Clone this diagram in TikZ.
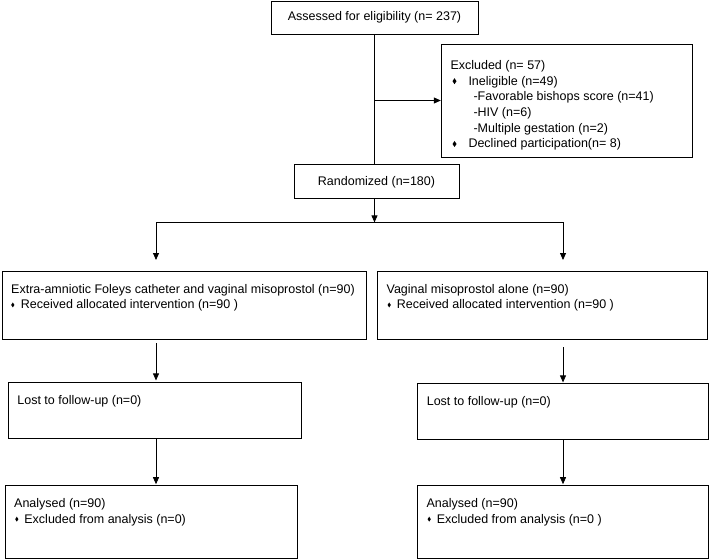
\documentclass[tikz,border=0pt]{standalone}
\usepackage{fontspec}
\setmainfont{Liberation Sans}
\usetikzlibrary{positioning, arrows.meta}

% small diamond bullets
\newcommand{\dmd}{\tikz[baseline=0pt]\fill (0pt,4pt) -- (2pt,7pt) -- (4pt,4pt) -- (2pt,1pt) -- cycle;}
\newcommand{\sdmd}{\tikz[baseline=0pt]\fill (0pt,4pt) -- (1.6pt,6.5pt) -- (3.2pt,4pt) -- (1.6pt,1.5pt) -- cycle;}
% text that sits at the top of a box
\newcommand{\toptext}[3]{\parbox[c][#2][t]{#1}{#3}}

\begin{document}
\begin{tikzpicture}[x=1pt, y=-1pt, line width=0.8pt, >={Triangle[length=7pt,width=6pt]},
  box/.style={draw, font=\fontsize{12.5}{15.7}\selectfont},
  stage/.style={box, inner xsep=9pt, inner ysep=13pt}]
\useasboundingbox (0,0) rectangle (709,558);

\node[box, minimum width=207pt, minimum height=33pt] (assess) at (374.5,17.5) {Assessed for eligibility (n= 237)};
\node[box, minimum width=165pt, minimum height=34pt, below=130pt of assess, xshift=2pt] (rand) {Randomized (n=180)};
\node[box, minimum width=251pt, minimum height=113pt, inner xsep=9.5pt] (excl) at (566.5,100.5) {\parbox{232pt}{\vspace*{10pt}Excluded (n= 57)\\
  \hspace*{2pt}\dmd\hspace*{12pt}Ineligible (n=49)\\
  \hspace*{23pt}-Favorable bishops score (n=41)\\
  \hspace*{23pt}-HIV (n=6)\\
  \hspace*{23pt}-Multiple gestation (n=2)\\
  \hspace*{2pt}\dmd\hspace*{12pt}Declined participation(n= 8)}};

% left arm
\node[stage, anchor=north west] (alloc1) at (2,271) {\toptext{346pt}{42pt}{Extra-amniotic Foleys catheter and vaginal misoprostol (n=90)\\
  \hspace*{0pt}\sdmd\hspace*{6.5pt}Received allocated intervention (n=90 )}};
\node[stage, below=43pt of alloc1.south west, anchor=north west, xshift=6pt] (lost1) {\toptext{275pt}{30pt}{Lost to follow-up (n=0)}};
\node[stage, below=46pt of lost1.south west, anchor=north west, xshift=-3pt] (anal1) {\toptext{274pt}{47pt}{Analysed (n=90)\\
  \hspace*{1pt}\sdmd\hspace*{6pt}Excluded from analysis (n=0)}};

% right arm
\node[stage, right=11pt of alloc1.north east, anchor=north west] (alloc2) {\toptext{312pt}{42pt}{Vaginal misoprostol alone (n=90)\\
  \hspace*{1pt}\sdmd\hspace*{6pt}Received allocated intervention (n=90 )}};
\node[stage, below=44pt of alloc2.south west, anchor=north west, xshift=40pt] (lost2) {\toptext{273pt}{30pt}{Lost to follow-up (n=0)}};
\node[stage, below=45pt of lost2.south west, anchor=north west] (anal2) {\toptext{273pt}{47pt}{Analysed (n=90)\\
  \hspace*{1pt}\sdmd\hspace*{6pt}Excluded from analysis (n=0 )}};

\coordinate (exclsplit) at (assess.south |- excl.west);
\path (assess.south) ++(0,188) coordinate (fork);
\path (fork) ++(-218.5,0) coordinate (forkL);
\path (fork) ++(188.5,0) coordinate (forkR);

\draw (assess.south) -- (assess.south |- rand.north);
\draw[->] (exclsplit) -- (excl.west);
\draw[->] (fork |- rand.south) -- (fork);
\draw (forkL) -- (forkR);

\draw[->, shorten >=11pt] (forkL) -- (forkL |- alloc1.north);
\draw[->, shorten <=4pt, shorten >=2pt] (forkL |- alloc1.south) -- (forkL |- lost1.north);
\draw[->, shorten >=1pt] (forkL |- lost1.south) -- (forkL |- anal1.north);

\draw[->, shorten >=11pt] (forkR) -- (forkR |- alloc2.north);
\draw[->, shorten <=8pt, shorten >=1pt] (forkR |- alloc2.south) -- (forkR |- lost2.north);
\draw[->, shorten >=1pt] (forkR |- lost2.south) -- (forkR |- anal2.north);

\end{tikzpicture}
\end{document}
